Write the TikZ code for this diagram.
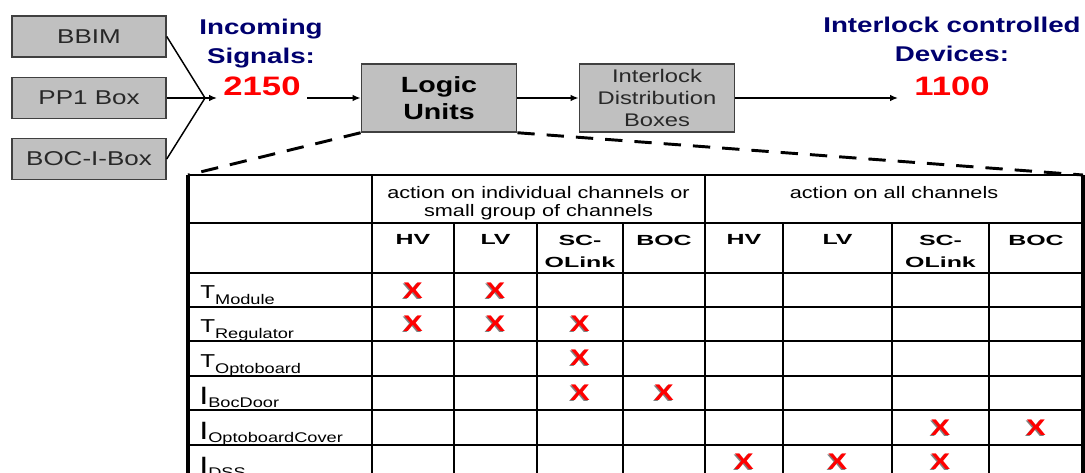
\documentclass[tikz,border=0pt]{standalone}
\usepackage{fontspec}
\setmainfont{Liberation Sans}[FakeStretch=1.3]
\newfontfamily\headfont{Liberation Sans}[FakeStretch=1.7]
\usetikzlibrary{arrows.meta}
\definecolor{navy}{RGB}{0,0,110}
\definecolor{boxgray}{RGB}{192,192,192}
\definecolor{boxline}{RGB}{64,64,64}
\definecolor{boxtext}{RGB}{40,40,40}
\newcommand{\fs}[2]{\fontsize{#1}{#2}\selectfont}
\newcommand{\xm}{\rlap{\kern-0.9pt\raisebox{-0.9pt}{\textcolor{gray}{X}}}\textcolor{red}{X}}
\newcommand{\rowlbl}[4]{{\fs{#1}{#1}#2}\raisebox{#3}{\fs{10.5}{10.5}#4}}

\begin{document}
\begin{tikzpicture}[x=0.75pt,y=-0.75pt,
  srcbox/.style={draw=boxline,line width=1.1pt,fill=boxgray,minimum width=115.5pt,minimum height=31pt,inner sep=0pt,text=boxtext,font=\fs{15}{18}},
  unitbox/.style={draw=boxline,line width=1.1pt,fill=boxgray,minimum width=116.5pt,minimum height=51pt,inner sep=0pt,align=center},
  headline/.style={text=navy,font=\bfseries\fs{16}{21.5},align=center,anchor=north,inner sep=0pt},
  numtext/.style={text=red,font=\bfseries\fs{20}{20},anchor=north,inner xsep=5pt,inner ysep=0pt},
  flow/.style={line width=1.1pt,-{Latex[length=6pt,width=5pt]}},
  zoomline/.style={line width=2.2pt,dash pattern=on 13pt off 9pt},
  gridline/.style={line width=1pt},
  edgeline/.style={line width=2.4pt},
  grouphead/.style={font=\fs{12.5}{13.5},align=center,anchor=north,inner sep=0pt},
  colhead/.style={font=\headfont\bfseries\fs{11}{16.5},align=center,anchor=north,inner sep=0pt},
  rowhead/.style={anchor=base west,inner sep=0pt},
  xcell/.style={font=\bfseries\fs{17}{17},inner sep=0pt}]
\useasboundingbox (0,0) rectangle (1085,472);

% sources
\node[srcbox] (bbim) at (89,36.5) {BBIM};
\node[srcbox] (pp1) at (89,98) {PP1 Box};
\node[srcbox] (bocbox) at (89,159) {BOC-I-Box};
\coordinate (merge) at (205,98);
\coordinate (mergetip) at (217,98);
\draw[line width=1.1pt] (bbim.east) -- (merge);
\draw[line width=1.1pt] (bocbox.east) -- (merge);
\draw[flow] (pp1) -- (mergetip);

% chain
\node[headline] (incoming) at (261,19) {Incoming\\Signals:};
\node[numtext] (insum) at (262,77) {2150};
\node[unitbox,font=\bfseries\fs{16.5}{20}] (logic) at (439,98) {Logic\\Units};
\node[unitbox,text=boxtext,font=\fs{13.7}{16.5}] (idb) at (657,98) {Interlock\\Distribution\\Boxes};
\node[headline] (devices) at (952,17) {Interlock controlled\\Devices:};
\node[numtext] (outsum) at (952,77) {1100};
\coordinate (devtip) at (898,98);
\draw[flow] (insum.east |- logic.west) -- (logic.west);
\draw[flow] (logic) -- (idb);
\draw[flow] (idb) -- (devtip);

% table
\coordinate (tl) at (188,175);
\coordinate (tr) at (1083,175);
\draw[zoomline] (logic.south west) -- (tl);
\draw[zoomline] (logic.south east) -- (tr);
\foreach \y in {175,223,273,307,341,376,410,445}
  \draw[gridline] (188,\y) -- (1083,\y);
\foreach \x in {372,705}
  \draw[gridline] (\x,175) -- (\x,480);
\foreach \x in {454,537,623,783,892,989}
  \draw[gridline] (\x,223) -- (\x,480);
\draw[edgeline] (188,175) -- (188,480);
\draw[edgeline] (1083,175) -- (1083,480);

\node[grouphead] (grpsome) at (538.5,186) {action on individual channels or\\small group of channels};
\node[grouphead] (grpall) at (894,186) {action on all channels};
\foreach \x/\t [count=\i] in {413/HV,495.5/LV,580/{SC-\\OLink},664/BOC,744/HV,837.5/LV,940.5/{SC-\\OLink},1036/BOC}
  \node[colhead] (col\i) at (\x,234.5) {\t};

\foreach \yb/\s [count=\i] in {307/Module,341/Regulator,376/Optoboard}
  \node[rowhead] (trow\i) at (200,\yb-9) {\rowlbl{14}{T}{-4.5pt}{\s}};
\foreach \yb/\s [count=\i] in {410/BocDoor,445/OptoboardCover,480/DSS}
  \node[rowhead] (irow\i) at (199,\yb-6) {\rowlbl{18.8}{I}{-2.3pt}{\s}};

\foreach \x/\y [count=\i] in {413/291,495.5/291,413/324,495.5/324,580/324,580/358,580/393,664/393,940.5/428,1036/428,744/462,837.5/462,940.5/462}
  \node[xcell] (mark\i) at (\x,\y) {\xm};
\end{tikzpicture}
\end{document}
